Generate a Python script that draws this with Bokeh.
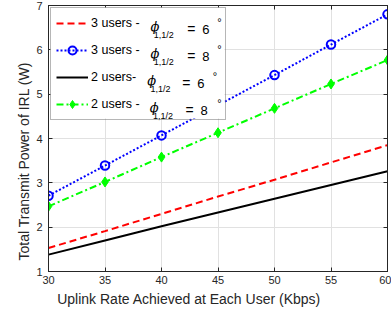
from bokeh.plotting import figure
from bokeh.models import (Range1d, Legend, LegendItem, Label, FixedTicker, Title,
                          BoxAnnotation, LinearAxis)
from bokeh.embed import file_html
from bokeh.resources import INLINE

# ---- data ----
rate = [30, 35, 40, 45, 50, 55, 60]
p3_6 = [1.53, 1.91, 2.30, 2.69, 3.07, 3.46, 3.85]
p3_8 = [2.71, 3.39, 4.07, 4.75, 5.43, 6.12, 6.80]
p2_6 = [1.38, 1.70, 2.02, 2.33, 2.64, 2.95, 3.26]
p2_8 = [2.47, 3.02, 3.58, 4.13, 4.68, 5.23, 5.77]
x_ticks = [30, 35, 40, 45, 50, 55, 60]
y_ticks = [1, 2, 3, 4, 5, 6, 7]
legend_users = ["3 users -", "3 users -", "2 users-", "2 users -"]
legend_angles = ["6", "8", "6", "8"]
x_title = "Uplink Rate Achieved at Each User (Kbps)"
y_title = "Total Transmit Power of IRL (W)"

FONT = "Liberation Sans"
AX = "#262626"

W, H = 391, 318
ML, MR, MT, MB = 48, 4, 5, 47
FW, FH = W - ML - MR, H - MT - MB
p = figure(width=W, height=H, x_range=Range1d(30, 60), y_range=Range1d(1, 7),
           output_backend="svg", toolbar_location=None,
           min_border_left=ML, min_border_right=MR, min_border_top=MT, min_border_bottom=MB)
p.background_fill_color = "white"
p.border_fill_color = "white"
p.outline_line_color = AX
p.outline_line_width = 1

for ax, ticks in ((p.xaxis, x_ticks), (p.yaxis, y_ticks)):
    ax.ticker = FixedTicker(ticks=ticks)
    ax.major_tick_in = 4
    ax.major_tick_out = 0
    ax.minor_tick_line_color = None
    ax.axis_line_color = AX
    ax.major_tick_line_color = AX
    ax.major_label_text_font = FONT
    ax.major_label_text_font_size = "11px"
    ax.major_label_text_color = AX
p.xaxis.major_label_standoff = 4
p.yaxis.major_label_standoff = 6

# tick marks on the top and right edges (box on), no labels drawn
for loc, ticks in (("above", x_ticks), ("right", y_ticks)):
    p.add_layout(LinearAxis(ticker=FixedTicker(ticks=ticks), major_tick_in=4,
                            major_tick_out=0, minor_tick_line_color=None,
                            major_label_text_color=None, major_label_text_font_size="1px",
                            major_label_standoff=0, axis_line_color=AX,
                            major_tick_line_color=AX), loc)

p.xgrid.ticker = FixedTicker(ticks=x_ticks)
p.ygrid.ticker = FixedTicker(ticks=y_ticks)
p.grid.grid_line_color = "#e1e1e1"
p.grid.grid_line_width = 1

r_red = p.line(rate, p3_6, line_color="#ff0000", line_width=2, line_dash="7 4")
r_blue = p.line(rate, p3_8, line_color="#0000ff", line_width=2, line_dash="2 2")
s_blue = p.scatter(rate, p3_8, marker="circle", size=8.5, line_color="#0000ff",
                   line_width=2, fill_color=None)
r_black = p.line(rate, p2_6, line_color="#000000", line_width=2)
r_green = p.line(rate, p2_8, line_color="#00ff00", line_width=2, line_dash="7 3 2 3")
s_green = p.scatter(rate, p2_8, marker="diamond", size=10,
                    line_color="#00ff00", fill_color="#00ff00")

# legend geometry
L_MARGIN, L_PAD, ITEM_H, L_SPACE = 2, 5, 20, 7
GLYPH_W, L_STANDOFF, LABEL_W = 32, 3, 129
L_W = 2 * L_PAD + GLYPH_W + L_STANDOFF + LABEL_W
L_H = 2 * L_PAD + 4 * ITEM_H + 3 * L_SPACE

# white legend background (drawn under the phi texts)
p.add_layout(BoxAnnotation(left=L_MARGIN, right=L_MARGIN + L_W,
                           top=FH - L_MARGIN, bottom=FH - L_MARGIN - L_H,
                           left_units="screen", right_units="screen",
                           top_units="screen", bottom_units="screen",
                           fill_color="white", fill_alpha=1.0, line_color=None,
                           level="annotation"))

renderers = [[r_red], [r_blue, s_blue], [r_black], [r_green, s_green]]
items = [LegendItem(label=lab, renderers=rs) for lab, rs in zip(legend_users, renderers)]
legend = Legend(items=items, location="top_left", margin=L_MARGIN, padding=L_PAD,
                spacing=L_SPACE, glyph_height=ITEM_H, label_height=ITEM_H,
                glyph_width=GLYPH_W, label_standoff=L_STANDOFF, label_width=LABEL_W,
                label_text_font=FONT, label_text_font_size="12.5px",
                label_text_color="#000000", border_line_color="#6e6e6e",
                border_line_width=1, background_fill_alpha=0.0)
p.add_layout(legend)

# frame geometry in picture pixels
frame_left = ML
frame_top = MT
frame_bottom = H - MB

def sx(px):
    return px - frame_left

def sy(py):
    return frame_bottom - py

phi_x = [150, 150, 146.7, 149.3]
eq_x = [186.7, 186.7, 181.7, 185.0]
deg_x = [216.7, 216.7, 212.3, 216.7]
for i in range(4):
    cy = frame_top + L_MARGIN + L_PAD + ITEM_H / 2 + i * (ITEM_H + L_SPACE) + 1
    parts = [
        ("ϕ", phi_x[i], cy + 3, "DejaVu Serif", "13px", "italic"),
        ("1,1/2", phi_x[i] + 3.3, cy + 11.5, FONT, "9px", "normal"),
        ("=", eq_x[i], cy + 5.5, FONT, "14px", "normal"),
        (legend_angles[i], eq_x[i] + 15, cy + 5.5, FONT, "13px", "normal"),
        ("°", deg_x[i], cy - 1.6, FONT, "11px", "normal"),
    ]
    for txt, x0, yb, fnt, fs, style in parts:
        p.add_layout(Label(x=sx(x0), y=sy(yb), x_units="screen", y_units="screen",
                           text=txt, text_font=fnt, text_font_size=fs,
                           text_font_style=style, text_color="#000000",
                           text_align="left", text_baseline="alphabetic",
                           level="overlay"))

# axis titles
p.add_layout(Title(text=x_title, align="left", offset=8.7, text_font=FONT,
                   text_font_size="14px", text_font_style="normal", text_color=AX,
                   standoff=4), "below")
p.add_layout(Title(text=y_title, align="left", offset=11, text_font=FONT,
                   text_font_size="14px", text_font_style="normal", text_color=AX,
                   standoff=3), "left")

open("out.html", "w").write(file_html(p, INLINE))
